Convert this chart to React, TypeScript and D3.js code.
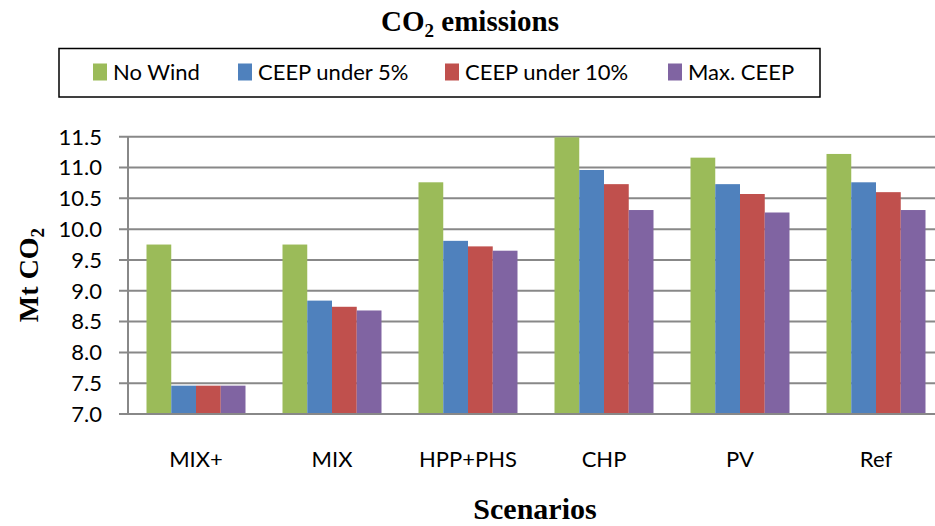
import { useRef, useEffect } from "react";
import * as d3 from "d3";

const categories = ["MIX+", "MIX", "HPP+PHS", "CHP", "PV", "Ref"];
const seriesNames = ["No Wind", "CEEP under 5%", "CEEP under 10%", "Max. CEEP"];
const noWind = [9.75, 9.75, 10.76, 11.49, 11.16, 11.22];
const ceep5 = [7.46, 8.84, 9.81, 10.96, 10.73, 10.76];
const ceep10 = [7.46, 8.74, 9.72, 10.73, 10.57, 10.6];
const maxCeep = [7.46, 8.68, 9.65, 10.31, 10.27, 10.31];
const yTicks = [7.0, 7.5, 8.0, 8.5, 9.0, 9.5, 10.0, 10.5, 11.0, 11.5];
const colors = ["#9BBB59", "#4F81BD", "#C0504D", "#8064A2"];

export default function App() {
  const ref = useRef<SVGSVGElement | null>(null);

  useEffect(() => {
    const svg = d3.select(ref.current);
    svg.selectAll("*").remove();

    const width = 935;
    const height = 526;
    const plot = { left: 128, right: 944, top: 136.7, bottom: 414 };
    const series = [noWind, ceep5, ceep10, maxCeep];
    const sans = "Lato, 'Open Sans', sans-serif";
    const serif = "'Liberation Serif', 'Times New Roman', serif";

    const x0 = d3
      .scaleBand()
      .domain(categories)
      .range([plot.left, plot.right])
      .paddingInner(37 / 136)
      .paddingOuter(18.5 / 136);

    const x1 = d3
      .scaleBand()
      .domain(seriesNames)
      .range([0, x0.bandwidth()]);

    const y = d3.scaleLinear().domain([7, 11.5]).range([plot.bottom, plot.top]);

    svg.append("rect").attr("width", width).attr("height", height).attr("fill", "#fff");

    // grid + y ticks
    svg
      .append("g")
      .selectAll("line")
      .data(yTicks)
      .join("line")
      .attr("x1", plot.left - 9)
      .attr("x2", plot.right)
      .attr("y1", (d) => y(d))
      .attr("y2", (d) => y(d))
      .attr("stroke", "#888")
      .attr("stroke-width", 2);

    svg
      .append("g")
      .selectAll("text")
      .data(yTicks)
      .join("text")
      .attr("x", 102)
      .attr("y", (d) => y(d))
      .attr("dy", "0.36em")
      .attr("text-anchor", "end")
      .attr("font-family", sans)
      .attr("font-size", 22)
      .attr("fill", "#000")
      .text((d) => d3.format(".1f")(d));

    svg
      .append("line")
      .attr("x1", plot.left)
      .attr("x2", plot.left)
      .attr("y1", plot.top)
      .attr("y2", plot.bottom)
      .attr("stroke", "#888")
      .attr("stroke-width", 2);

    // bars
    const groups = svg
      .append("g")
      .selectAll("g")
      .data(categories)
      .join("g")
      .attr("transform", (c) => `translate(${x0(c)},0)`);

    groups
      .selectAll("rect")
      .data((_c, i) => series.map((s, j) => ({ name: seriesNames[j], value: s[i], color: colors[j] })))
      .join("rect")
      .attr("x", (d) => x1(d.name)!)
      .attr("width", x1.bandwidth())
      .attr("y", (d) => y(d.value))
      .attr("height", (d) => y(7) - y(d.value))
      .attr("fill", (d) => d.color);

    // x axis line on top of bars
    svg
      .append("line")
      .attr("x1", plot.left - 9)
      .attr("x2", plot.right)
      .attr("y1", plot.bottom)
      .attr("y2", plot.bottom)
      .attr("stroke", "#888")
      .attr("stroke-width", 2);

    // category labels
    svg
      .append("g")
      .selectAll("text")
      .data(categories)
      .join("text")
      .attr("x", (c) => x0(c)! + x0.bandwidth() / 2)
      .attr("y", 467)
      .attr("text-anchor", "middle")
      .attr("font-family", sans)
      .attr("font-size", 22)
      .text((c) => c);

    // title
    const title = svg
      .append("text")
      .attr("x", 470)
      .attr("y", 31)
      .attr("text-anchor", "middle")
      .attr("font-family", serif)
      .attr("font-weight", "bold")
      .attr("font-size", 29);
    title.append("tspan").text("CO");
    title.append("tspan").attr("font-size", 19).attr("dy", 6).text("2");
    title.append("tspan").attr("dy", -6).text(" emissions");

    // y axis title
    const yt = svg
      .append("text")
      .attr("transform", "translate(38,275) rotate(-90)")
      .attr("text-anchor", "middle")
      .attr("font-family", serif)
      .attr("font-weight", "bold")
      .attr("font-size", 28);
    yt.append("tspan").text("Mt CO");
    yt.append("tspan").attr("font-size", 19).attr("dy", 6).text("2");

    // x axis title
    svg
      .append("text")
      .attr("x", 535)
      .attr("y", 519)
      .attr("text-anchor", "middle")
      .attr("font-family", serif)
      .attr("font-weight", "bold")
      .attr("font-size", 30)
      .text("Scenarios");

    // legend
    svg
      .append("rect")
      .attr("x", 59)
      .attr("y", 48.5)
      .attr("width", 761)
      .attr("height", 48.5)
      .attr("fill", "#fff")
      .attr("stroke", "#000")
      .attr("stroke-width", 1.5);

    const legendX = [93, 238, 445, 668];
    const items = svg
      .append("g")
      .selectAll("g")
      .data(seriesNames)
      .join("g")
      .attr("transform", (_d, i) => `translate(${legendX[i]},72)`);
    items
      .append("rect")
      .attr("x", 0)
      .attr("y", -8.5)
      .attr("width", 14)
      .attr("height", 17)
      .attr("fill", (_d, i) => colors[i]);
    items
      .append("text")
      .attr("x", 20)
      .attr("dy", "0.36em")
      .attr("font-family", sans)
      .attr("font-size", 22)
      .text((d) => d);
  }, []);

  return (
    <svg
      ref={ref}
      width={935}
      height={526}
      style={{ position: "absolute", left: 0, top: 0 }}
    ></svg>
  );
}
